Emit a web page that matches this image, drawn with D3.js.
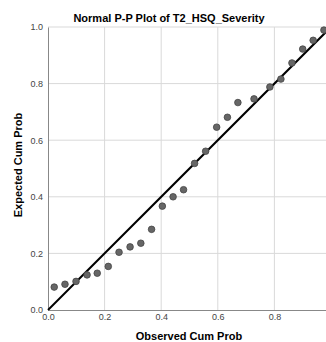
<!DOCTYPE html>
<html>
<head>
<meta charset="utf-8">
<script src="https://cdn.jsdelivr.net/npm/d3@7"></script>
<style>
  body { margin: 0; background: #fff; overflow: hidden; }
  text { font-family: Arial, "Liberation Sans", sans-serif; }
</style>
</head>
<body>
<script>
// observed vs expected cumulative probabilities
const observed = [0.022, 0.060, 0.099, 0.138, 0.174, 0.213, 0.251, 0.290, 0.328, 0.366,
                  0.404, 0.442, 0.479, 0.518, 0.557, 0.596, 0.634, 0.671, 0.728, 0.784,
                  0.823, 0.862, 0.900, 0.937, 0.975];
const expected = [0.081, 0.091, 0.101, 0.124, 0.130, 0.154, 0.204, 0.223, 0.236, 0.285,
                  0.367, 0.400, 0.425, 0.518, 0.561, 0.646, 0.681, 0.733, 0.746, 0.788,
                  0.816, 0.873, 0.922, 0.953, 0.989];
const xTicks = [0, 0.2, 0.4, 0.6, 0.8];
const yTicks = [0, 0.2, 0.4, 0.6, 0.8, 1.0];

const data = observed.map((o, i) => ({x: o, y: expected[i]}));

const margin = {top: 27, left: 48};
const width = 283, height = 283;

const svg = d3.select("body").append("svg")
   .attr("width", 326)
   .attr("height", 342);

const g = svg.append("g")
   .attr("transform", "translate(" + margin.left + "," + margin.top + ")");

const x = d3.scaleLinear().domain([0, 1]).range([0, width]);
const y = d3.scaleLinear().domain([0, 1]).range([height, 0]);

// grid
g.selectAll(".gx")
   .data([0.2, 0.4, 0.6, 0.8, 1.0])
   .enter().append("line")
   .attr("x1", d => x(d)).attr("x2", d => x(d))
   .attr("y1", 0).attr("y2", height)
   .style("stroke", "#d9d9d9").style("stroke-width", 1);
g.selectAll(".gy")
   .data(yTicks.slice(1))
   .enter().append("line")
   .attr("x1", 0).attr("x2", width)
   .attr("y1", d => y(d)).attr("y2", d => y(d))
   .style("stroke", "#d9d9d9").style("stroke-width", 1);

// axes
const xAxis = g.append("g")
   .attr("transform", "translate(0," + height + ")")
   .call(d3.axisBottom(x).tickValues(xTicks).tickSize(0).tickPadding(4).tickFormat(d3.format(".1f")));
const yAxis = g.append("g")
   .call(d3.axisLeft(y).tickValues(yTicks).tickSize(0).tickPadding(5).tickFormat(d3.format(".1f")));
[xAxis, yAxis].forEach(a => {
  a.select(".domain").style("stroke", "#888").style("stroke-width", 1);
  a.selectAll("text").style("font-size", "9px").style("fill", "#444")
   .style("font-family", "Arial, 'Liberation Sans', sans-serif");
});

// diagonal reference line
g.append("line")
   .attr("x1", x(0)).attr("y1", y(0))
   .attr("x2", x(1)).attr("y2", y(1))
   .style("stroke", "#000").style("stroke-width", 2);

// points
g.selectAll("circle")
   .data(data)
   .enter()
   .append("circle")
   .attr("cx", d => x(d.x))
   .attr("cy", d => y(d.y))
   .attr("r", 3.3)
   .style("fill", "#666")
   .style("stroke", "#444")
   .style("stroke-width", 0.8);

// title
svg.append("text")
   .attr("x", 169)
   .attr("y", 22)
   .style("text-anchor", "middle")
   .style("font-weight", "bold")
   .style("font-size", "11px")
   .text("Normal P-P Plot of T2_HSQ_Severity");

// x axis title
svg.append("text")
   .attr("x", 189)
   .attr("y", 340)
   .style("text-anchor", "middle")
   .style("font-weight", "bold")
   .style("font-size", "11px")
   .text("Observed Cum Prob");

// y axis title
svg.append("text")
   .attr("transform", "translate(22,165) rotate(-90)")
   .style("text-anchor", "middle")
   .style("font-weight", "bold")
   .style("font-size", "11px")
   .text("Expected Cum Prob");
</script>
</body>
</html>
